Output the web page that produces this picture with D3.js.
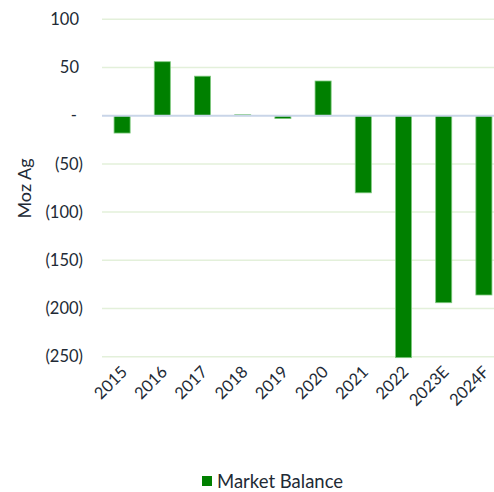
<!DOCTYPE html>
<html>
<head>
<meta charset="utf-8">
<script src="https://cdn.jsdelivr.net/npm/d3@7"></script>
<style>
  body { margin: 0; background: #fff; }
  text { font-family: Lato, "Open Sans", sans-serif; fill: #222a35; }
</style>
</head>
<body>
<svg id="chart" width="494" height="492"></svg>
<script>
// categories and values
var years = ['2015', '2016', '2017', '2018', '2019', '2020', '2021', '2022', '2023E', '2024F'];
var balance = [-18, 56, 41, 1, -3, 36, -80, -251, -194, -186];
var yTicks = [100, 50, 0, -50, -100, -150, -200, -250];

var svg = d3.select('#chart');

var x = d3.scaleBand().domain(years).range([102, 504]).paddingInner(0.6).paddingOuter(0.3);
var y = d3.scaleLinear().domain([-250, 100]).range([356.7, 19.3]);

// accounting-style tick labels
function fmt(v) {
    if (v === 0) return '-';
    if (v < 0) return '(' + Math.abs(v) + ')';
    return String(v);
}

// gridlines
svg.append('g').selectAll('line')
    .data(yTicks.filter(function(d) { return d !== 0; }))
    .enter().append('line')
    .attr('x1', 102).attr('x2', 494)
    .attr('y1', function(d) { return y(d); })
    .attr('y2', function(d) { return y(d); })
    .style('stroke', '#e3f0da')
    .style('stroke-width', 1.5);

// y labels
svg.append('g').selectAll('text')
    .data(yTicks)
    .enter().append('text')
    .attr('x', function(d) { return d < 0 ? 83 : (d === 0 ? 77 : 79); })
    .attr('y', function(d) { return y(d); })
    .attr('dy', '0.35em')
    .attr('text-anchor', 'end')
    .style('font-size', '16.5px')
    .text(fmt);

// bars
svg.append('g').selectAll('rect')
    .data(years)
    .enter().append('rect')
    .attr('x', function(d) { return x(d); })
    .attr('width', x.bandwidth())
    .attr('y', function(d, i) { return y(Math.max(0, balance[i])); })
    .attr('height', function(d, i) { return Math.abs(y(balance[i]) - y(0)); })
    .style('fill', '#008000')
    .style('stroke', '#7fc97f')
    .style('stroke-width', 0.8);

// zero line
svg.append('line')
    .attr('x1', 102).attr('x2', 494)
    .attr('y1', y(0)).attr('y2', y(0))
    .style('stroke', '#c9d5e8')
    .style('stroke-width', 2);

// x labels
svg.append('g').selectAll('text')
    .data(years)
    .enter().append('text')
    .attr('transform', function(d) {
        return 'translate(' + (x(d) + x.bandwidth() / 2 + 2) + ',369) rotate(-45)';
    })
    .attr('text-anchor', 'end')
    .attr('dy', '0.35em')
    .style('font-size', '16.5px')
    .text(function(d) { return d; });

// axis title
svg.append('text')
    .attr('transform', 'translate(31,188.5) rotate(-90)')
    .attr('text-anchor', 'middle')
    .style('font-size', '18px')
    .text('Moz Ag');

// legend
svg.append('rect')
    .attr('x', 202).attr('y', 476)
    .attr('width', 10).attr('height', 10)
    .style('fill', '#008000');
svg.append('text')
    .attr('x', 217).attr('y', 488)
    .style('font-size', '18.5px')
    .text('Market Balance');
</script>
</body>
</html>
